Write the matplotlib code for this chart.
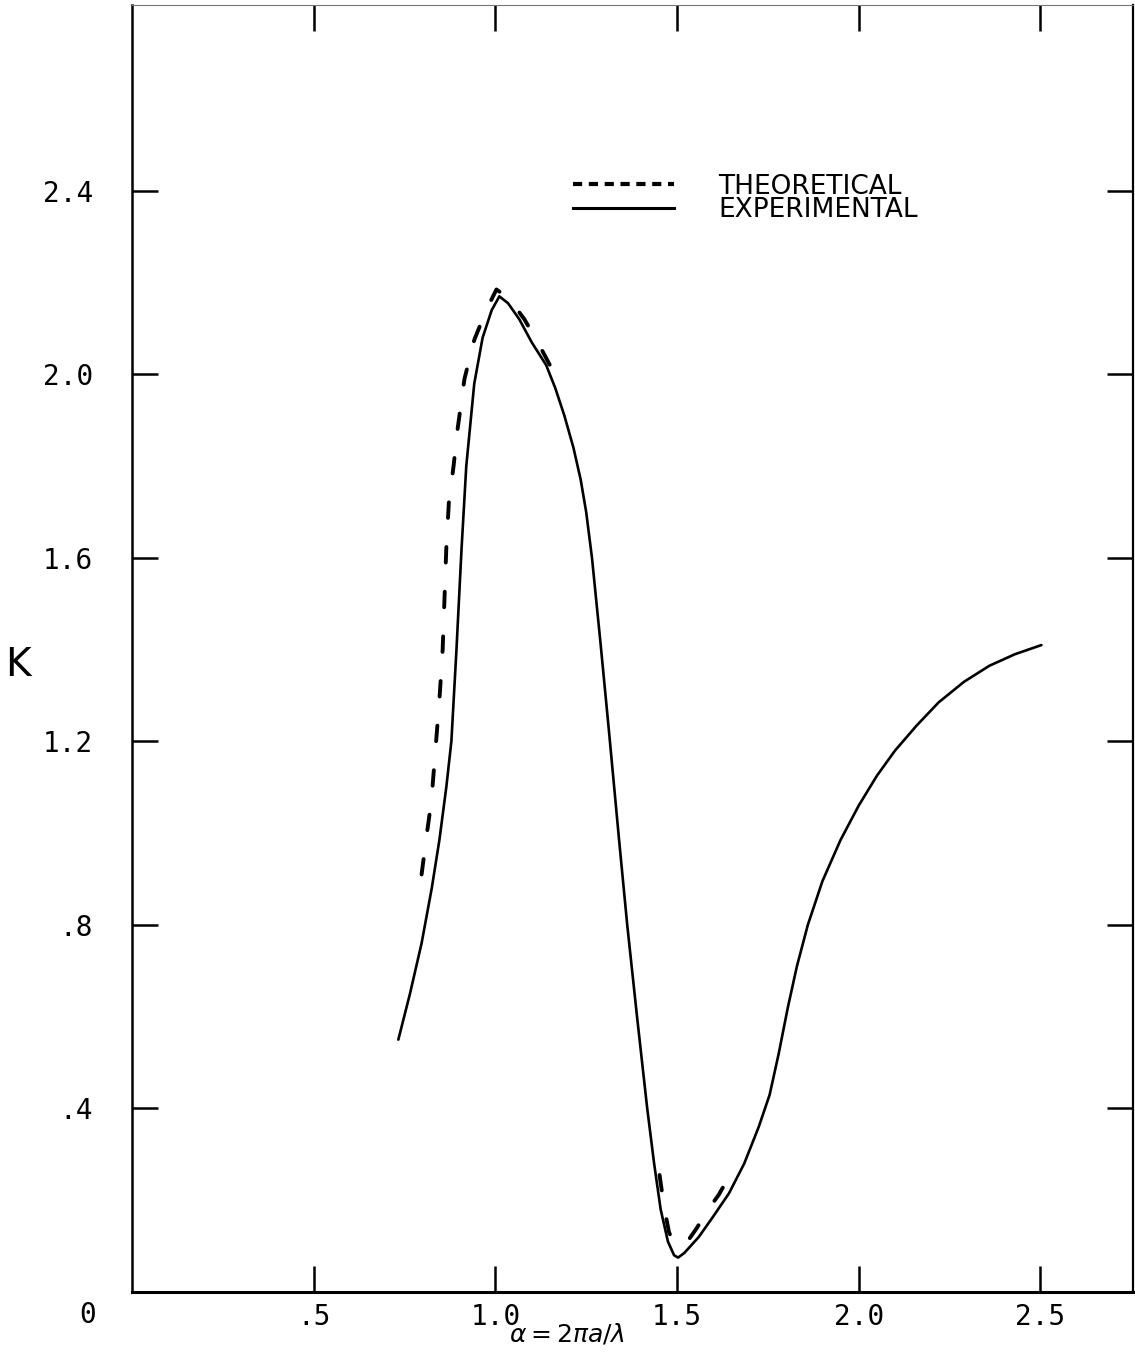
import matplotlib
matplotlib.use("Agg")
import matplotlib.pyplot as plt
from matplotlib.lines import Line2D

# experimental curve (solid)
exp_alpha = [0.733, 0.765, 0.797, 0.825, 0.846, 0.865, 0.879, 0.893, 0.907, 0.92, 0.942, 0.965,
             0.99, 1.011, 1.035, 1.066, 1.10, 1.14, 1.165, 1.19, 1.215, 1.235, 1.25, 1.266,
             1.29, 1.313, 1.34, 1.363, 1.39, 1.418, 1.437, 1.455, 1.475, 1.492, 1.503, 1.52,
             1.56, 1.60, 1.643, 1.685, 1.725, 1.755, 1.78, 1.805, 1.83, 1.86, 1.90, 1.95, 2.0,
             2.05, 2.10, 2.16, 2.22, 2.29, 2.36, 2.43, 2.503]
exp_k = [0.55, 0.65, 0.76, 0.88, 0.985, 1.10, 1.20, 1.40, 1.62, 1.80, 1.98, 2.08,
         2.14, 2.17, 2.155, 2.12, 2.07, 2.02, 1.97, 1.91, 1.84, 1.77, 1.70, 1.60,
         1.41, 1.22, 0.99, 0.80, 0.60, 0.40, 0.28, 0.18, 0.11, 0.08, 0.075, 0.085,
         0.12, 0.165, 0.215, 0.28, 0.36, 0.43, 0.52, 0.62, 0.71, 0.80, 0.895, 0.985, 1.06,
         1.125, 1.18, 1.235, 1.285, 1.33, 1.365, 1.39, 1.41]

# theoretical curve (dashed), two pieces
theo_alpha_1 = [0.797, 0.81, 0.824, 0.835, 0.846, 0.855, 0.86, 0.865, 0.872, 0.885, 0.896,
                0.915, 0.942, 0.975, 1.003, 1.038, 1.08, 1.12, 1.157]
theo_k_1 = [0.91, 0.99, 1.07, 1.18, 1.29, 1.40, 1.51, 1.62, 1.72, 1.80, 1.88,
            1.99, 2.075, 2.14, 2.185, 2.165, 2.12, 2.065, 2.01]
theo_alpha_2 = [1.452, 1.46, 1.467, 1.478, 1.49, 1.50, 1.515, 1.533, 1.555, 1.574, 1.595,
                1.615, 1.635, 1.657]
theo_k_2 = [0.255, 0.21, 0.175, 0.13, 0.11, 0.10, 0.105, 0.115, 0.14, 0.165, 0.19,
            0.212, 0.24, 0.27]

x_ticks = [0.5, 1.0, 1.5, 2.0, 2.5]
x_labels = [".5", "1.0", "1.5", "2.0", "2.5"]
y_ticks = [0.4, 0.8, 1.2, 1.6, 2.0, 2.4]
y_labels = [".4", ".8", "1.2", "1.6", "2.0", "2.4"]

fig = plt.figure(figsize=(11.35, 13.52), dpi=100)
ax = fig.add_axes([132/1135, 60/1352, 1001/1135, 1287/1352])

dash = (0, (4, 7.5))
ax.plot(exp_alpha, exp_k, color="black", lw=1.9, solid_capstyle="round", solid_joinstyle="round")
ax.plot(theo_alpha_1, theo_k_1, color="black", lw=2.8, linestyle=dash, dash_capstyle="round")
ax.plot(theo_alpha_2, theo_k_2, color="black", lw=2.8, linestyle=dash, dash_capstyle="round")

ax.set_xlim(0, 2.755)
ax.set_ylim(0, 2.805)
ax.set_xticks(x_ticks)
ax.set_xticklabels(x_labels)
ax.set_yticks(y_ticks)
ax.set_yticklabels(y_labels)

mono = "DejaVu Sans Mono"
ax.tick_params(axis="both", direction="in", length=19, width=1.8, color="black",
               top=True, right=True, labelsize=20)
ax.tick_params(axis="x", pad=8)
ax.tick_params(axis="y", pad=28)
for lab in ax.get_xticklabels() + ax.get_yticklabels():
    lab.set_family(mono)

ax.spines["bottom"].set_linewidth(2.2)
ax.spines["left"].set_linewidth(1.8)
ax.spines["right"].set_linewidth(1.6)
ax.spines["top"].set_linewidth(0.8)
ax.spines["top"].set_color("#777777")

ax.text(-0.044, -0.018, "0", transform=ax.transAxes, fontsize=20, family=mono,
        ha="center", va="center")
fig.text(0.016, 0.508, "K", fontsize=28, ha="center", va="center")
fig.text(0.50, 0.013, r"$\alpha = 2\pi a/\lambda$", fontsize=18, ha="center", va="center")

handles = [Line2D([], [], color="black", lw=3, linestyle=(0, (2.2, 1.6))),
           Line2D([], [], color="black", lw=2.2)]
ax.legend(handles, ["THEORETICAL", "EXPERIMENTAL"], loc="upper left",
          bbox_to_anchor=(0.441, 0.869), frameon=False, fontsize=19,
          handlelength=3.8, handletextpad=1.7, labelspacing=-0.1,
          borderpad=0, borderaxespad=0)

fig.savefig("out.png", dpi=100)
plt.close(fig)
